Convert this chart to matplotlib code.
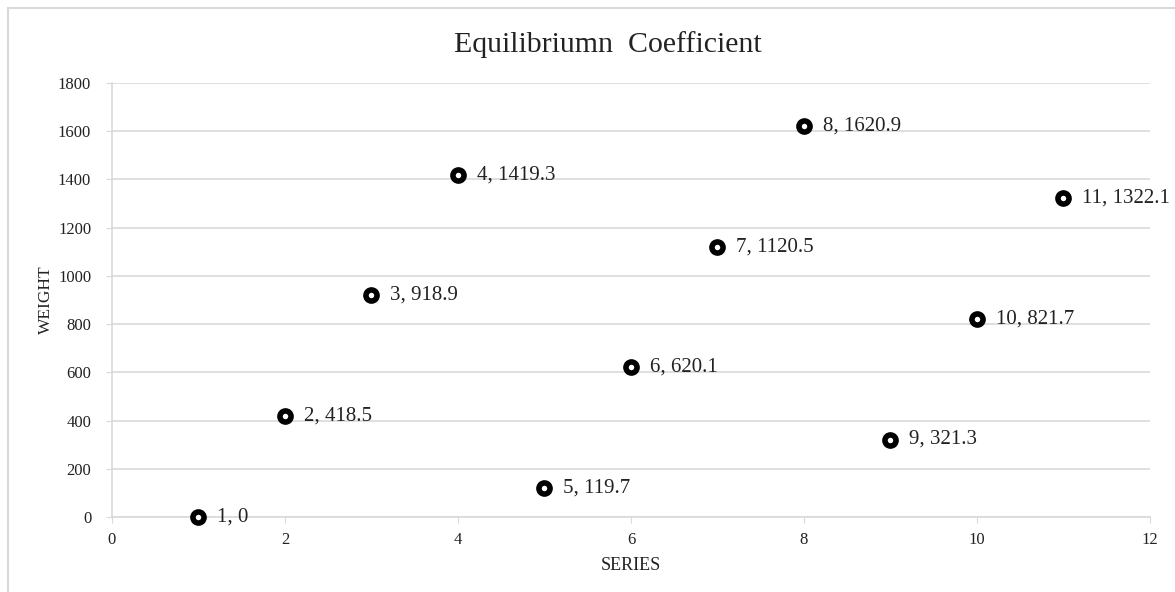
import matplotlib.pyplot as plt
from matplotlib.patches import Rectangle

# data
series = [1, 2, 3, 4, 5, 6, 7, 8, 9, 10, 11]
weight = [0, 418.5, 918.9, 1419.3, 119.7, 620.1, 1120.5, 1620.9, 321.3, 821.7, 1322.1]
labels = ['1, 0', '2, 418.5', '3, 918.9', '4, 1419.3', '5, 119.7', '6, 620.1',
          '7, 1120.5', '8, 1620.9', '9, 321.3', '10, 821.7', '11, 1322.1']

plt.rcParams['font.family'] = ['Liberation Serif', 'DejaVu Serif']

fig = plt.figure(figsize=(11.75, 5.92), dpi=100)
ax = fig.add_axes([0.0953, 0.1267, 0.8834, 0.7331])

# outer chart border
fig.patches.append(Rectangle((0.0065, -0.01), 1.0, 0.997, transform=fig.transFigure,
                             fill=False, edgecolor='#d9d9d9', linewidth=1.5))

ax.plot(series, weight, linestyle='none', marker='o', markersize=8,
        markerfacecolor='white', markeredgecolor='black', markeredgewidth=4,
        zorder=3, clip_on=False)

for x, y, t in zip(series, weight, labels):
    ax.annotate(t, (x, y), xytext=(13.5, 0), textcoords='offset points',
                va='center', ha='left', fontsize=15, color='#222222',
                annotation_clip=False)

ax.set_xlim(0, 12)
ax.set_ylim(0, 1800)
ax.set_xticks(range(0, 13, 2))
ax.set_yticks(range(0, 1801, 200))
ax.grid(axis='y', color='#d9d9d9', linewidth=1.2)
ax.set_axisbelow(True)

for s in ['top', 'right']:
    ax.spines[s].set_visible(False)
for s in ['left', 'bottom']:
    ax.spines[s].set_color('#d9d9d9')
    ax.spines[s].set_linewidth(1.2)

ax.tick_params(axis='x', colors='#d9d9d9', labelcolor='#222222', labelsize=12,
               length=4, direction='out', pad=7)
ax.tick_params(axis='y', colors='#d9d9d9', labelcolor='#222222', labelsize=12,
               length=4, direction='out', pad=11)

ax.set_xlabel('SERIES', fontsize=13, color='#222222', labelpad=6)
ax.set_ylabel('WEIGHT', fontsize=12.5, color='#222222', labelpad=3)
fig.text(0.517, 0.924, 'Equilibriumn  Coefficient', fontsize=21.5, color='#222222',
         ha='center', va='center')

fig.savefig('out.png', dpi=100)
